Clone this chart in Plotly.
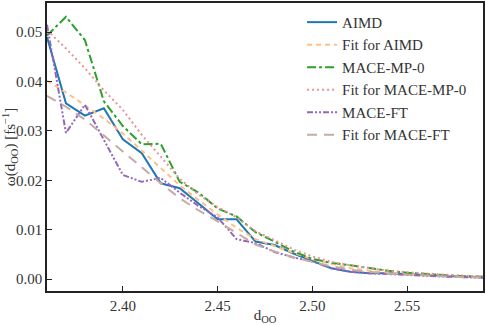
import plotly.graph_objects as go

# O-O distance grid
d_oo = [2.36, 2.37, 2.38, 2.39, 2.40, 2.41, 2.42, 2.43, 2.44, 2.45, 2.46, 2.47,
        2.48, 2.49, 2.50, 2.51, 2.52, 2.53, 2.54, 2.55, 2.56, 2.57, 2.58, 2.59]

aimd = [0.0490, 0.0356, 0.0331, 0.0346, 0.0283, 0.0255, 0.0194, 0.0184, 0.0153, 0.0121, 0.0121, 0.0076,
        0.0069, 0.0052, 0.0037, 0.0022, 0.0015, 0.0012, 0.0012, 0.0010, 0.0008, 0.0006, 0.0005, 0.0004]
fit_aimd = [0.0402, 0.0378, 0.0352, 0.0325, 0.0295, 0.0260, 0.0224, 0.0190, 0.0160, 0.0131, 0.0104, 0.0081,
            0.0067, 0.0053, 0.0040, 0.0031, 0.0022, 0.0017, 0.0013, 0.0010, 0.0008, 0.0006, 0.0005, 0.0004]
mace_mp0 = [0.0493, 0.0531, 0.0484, 0.0360, 0.0310, 0.0273, 0.0274, 0.0197, 0.0175, 0.0143, 0.0127, 0.0095,
            0.0076, 0.0056, 0.0041, 0.0033, 0.0028, 0.0022, 0.0017, 0.0013, 0.0010, 0.0008, 0.0006, 0.0005]
fit_mace_mp0 = [0.0504, 0.0467, 0.0427, 0.0382, 0.0343, 0.0292, 0.0248, 0.0203, 0.0171, 0.0146, 0.0125, 0.0097,
                0.0079, 0.0060, 0.0046, 0.0035, 0.0028, 0.0022, 0.0017, 0.0014, 0.0011, 0.0009, 0.0007, 0.0006]
mace_ft = [0.0515, 0.0296, 0.0353, 0.0282, 0.0211, 0.0197, 0.0205, 0.0175, 0.0148, 0.0125, 0.0081, 0.0073,
           0.0055, 0.0044, 0.0036, 0.0022, 0.0015, 0.0012, 0.0010, 0.0008, 0.0006, 0.0005, 0.0004, 0.0003]
fit_mace_ft = [0.0371, 0.0349, 0.0323, 0.0291, 0.0259, 0.0227, 0.0194, 0.0164, 0.0139, 0.0117, 0.0093, 0.0070,
               0.0056, 0.0044, 0.0035, 0.0026, 0.0019, 0.0015, 0.0011, 0.0009, 0.0007, 0.0005, 0.0004, 0.0003]

FONT = "Liberation Serif"

series = [
    ("AIMD", aimd, "#1f77b4", "solid"),
    ("Fit for AIMD", fit_aimd, "#ffbf86", "5px,4px"),
    ("MACE-MP-0", mace_mp0, "#2ca02c", "dashdot"),
    ("Fit for MACE-MP-0", fit_mace_mp0, "#ea9393", "2px,3px"),
    ("MACE-FT", mace_ft, "#9467bd", "6px,2px,2px,2px,2px,2px"),
    ("Fit for MACE-FT", fit_mace_ft, "#c5aaa5", "10px,7px"),
]

fig = go.Figure()
for name, vals, col, dash in series:
    fig.add_trace(go.Scatter(x=d_oo, y=vals, name=name, mode="lines",
                             line=dict(color=col, width=2, dash=dash)))

axis_common = dict(showline=True, mirror=True, linecolor="#222", linewidth=1.5,
                   ticks="inside", ticklen=5, tickwidth=1.2, tickcolor="#222",
                   showgrid=False, zeroline=False, automargin=False,
                   tickfont=dict(family=FONT, size=15, color="#333"))

fig.update_xaxes(range=[2.36, 2.59], tickvals=[2.40, 2.45, 2.50, 2.55],
                 ticktext=["2.40", "2.45", "2.50", "2.55"],
                 title=dict(text="d<sub>OO</sub>", font=dict(family=FONT, size=15, color="#333"),
                            standoff=2),
                 **axis_common)
fig.update_yaxes(range=[-0.0024, 0.0559], tickvals=[0, 0.01, 0.02, 0.03, 0.04, 0.05],
                 ticktext=["0.00", "0.01", "0.02", "0.03", "0.04", "0.05"],
                 title=dict(text="ω(d<sub>OO</sub>) [fs<sup>−1</sup>]",
                            font=dict(family=FONT, size=15, color="#333"), standoff=2),
                 **axis_common)

fig.update_layout(
    width=486, height=325,
    margin=dict(l=47, r=3, t=3, b=34),
    paper_bgcolor="white", plot_bgcolor="white",
    font=dict(family=FONT, size=15, color="#333"),
    legend=dict(x=0.585, y=0.99, xanchor="left", yanchor="top",
                bgcolor="rgba(0,0,0,0)", font=dict(family=FONT, size=15, color="#333"),
                tracegroupgap=0),
)

# drop the default page margin so the figure sits at the window corner
fig.write_html("out.html", config={"displayModeBar": False},
               post_script="document.body.style.margin='0px';")
